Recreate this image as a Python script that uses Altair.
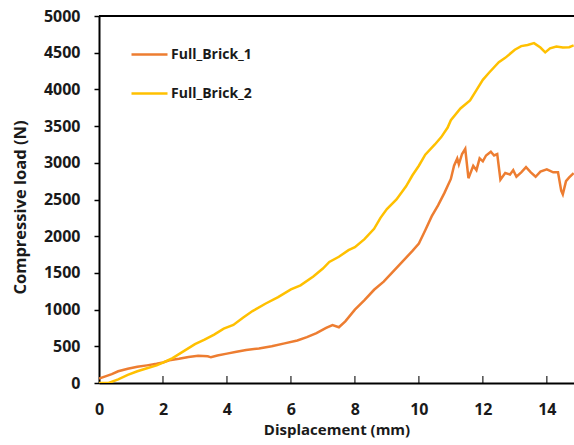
import altair as alt
import pandas as pd

series_names = ["Full_Brick_1", "Full_Brick_2"]
colors = ["#ED7D31", "#FFC000"]

b1_x = [0, 0.2, 0.4, 0.6, 0.9, 1.2, 1.5, 1.8, 2.0, 2.2, 2.5, 2.8, 3.1, 3.4, 3.5, 3.7, 4.0, 4.3, 4.6, 5.0,
        5.4, 5.8, 6.2, 6.5, 6.8, 7.1, 7.3, 7.5, 7.7, 8.0, 8.3, 8.6, 8.9, 9.2, 9.5, 9.8, 10.0, 10.2, 10.4,
        10.6, 10.8, 11.0, 11.1, 11.2, 11.25, 11.35, 11.45, 11.55, 11.7, 11.8, 11.9, 12.0, 12.1, 12.25,
        12.35, 12.45, 12.55, 12.7, 12.85, 12.95, 13.05, 13.2, 13.35, 13.5, 13.65, 13.8, 14.0, 14.2,
        14.35, 14.45, 14.5, 14.6, 14.7, 14.84]
b1_y = [60, 90, 120, 160, 195, 220, 240, 262, 280, 310, 330, 355, 370, 365, 350, 375, 400, 425, 450, 470,
        500, 540, 580, 625, 680, 750, 790, 760, 840, 1000, 1130, 1270, 1380, 1520, 1660, 1800, 1900, 2080, 2270,
        2420, 2590, 2780, 2960, 3060, 2980, 3120, 3190, 2790, 2960, 2900, 3060, 3020, 3100, 3150,
        3100, 3120, 2770, 2860, 2840, 2900, 2810, 2870, 2940, 2870, 2810, 2880, 2910, 2870,
        2870, 2620, 2570, 2750, 2800, 2860]

b2_x = [0, 0.3, 0.6, 0.9, 1.2, 1.5, 1.8, 2.0, 2.3, 2.6, 3.0, 3.3, 3.6, 3.9, 4.2, 4.5, 4.8, 5.2, 5.6, 6.0,
        6.3, 6.7, 7.0, 7.2, 7.5, 7.8, 8.0, 8.3, 8.6, 8.8, 9.0, 9.3, 9.6, 9.8, 10.0, 10.2, 10.5, 10.7, 10.9,
        11.0, 11.3, 11.6, 11.8, 12.0, 12.2, 12.5, 12.7, 13.0, 13.2, 13.4, 13.6, 13.8, 13.95, 14.1, 14.3,
        14.5, 14.7, 14.84]
b2_y = [0, 0, 50, 110, 160, 200, 240, 277, 340, 420, 530, 590, 660, 740, 790, 890, 980, 1080, 1170, 1275,
        1330, 1450, 1560, 1650, 1720, 1810, 1850, 1960, 2100, 2250, 2370, 2500, 2680, 2830, 2960, 3110, 3250,
        3350, 3480, 3580, 3740, 3850, 3990, 4130, 4230, 4370, 4430, 4540, 4590, 4605, 4630, 4570, 4505,
        4560, 4585, 4570, 4575, 4600]

x_ticks = [2, 4, 6, 8, 10, 12, 14]
y_ticks = [0, 500, 1000, 1500, 2000, 2500, 3000, 3500, 4000, 4500, 5000]

rows = []
for i, (x, y) in enumerate(zip(b1_x, b1_y)):
    rows.append({"s": series_names[0], "x": x, "y": y, "i": i})
for i, (x, y) in enumerate(zip(b2_x, b2_y)):
    rows.append({"s": series_names[1], "x": x, "y": y, "i": i})
df = pd.DataFrame(rows)

FONT = "Open Sans"
TXT = "#1a1a1a"
xscale = alt.Scale(domain=[0, 14.85], nice=False, zero=False)
yscale = alt.Scale(domain=[0, 5000], nice=False)

x_axis = alt.Axis(title="Displacement (mm)", values=[0] + x_ticks, ticks=False, format="d",
                  labelPadding=18, titlePadding=5, domainColor="black", domainWidth=2,
                  grid=False, labelFont=FONT, labelFontSize=16, labelFontWeight="bold",
                  labelColor=TXT, titleFont=FONT, titleFontSize=15, labelOverlap=False,
                  titleFontWeight="bold", titleColor=TXT, labelFlush=False)
y_axis = alt.Axis(title="Compressive load (N)", values=y_ticks, tickSize=5, tickColor="black",
                  tickWidth=1.5, labelPadding=14, titlePadding=15, domainColor="black",
                  format="d", labelOverlap=False, labelFlush=False, titleY=191,
                  domainWidth=2, grid=False, labelFont=FONT, labelFontSize=16,
                  labelFontWeight="bold", labelColor=TXT, titleFont=FONT,
                  titleFontSize=16.5, titleFontWeight="bold", titleColor=TXT)

lines = alt.Chart(df).mark_line(strokeWidth=2.5, clip=True).encode(
    x=alt.X("x:Q", scale=xscale, axis=x_axis),
    y=alt.Y("y:Q", scale=yscale, axis=y_axis),
    color=alt.Color("s:N", scale=alt.Scale(domain=series_names, range=colors),
                    legend=alt.Legend(title=None, orient="none", legendX=31, legendY=19,
                                      symbolType="stroke", symbolSize=1296, symbolStrokeWidth=2.5,
                                      rowPadding=12, labelOffset=2, padding=0,
                                      labelFont=FONT, labelFontSize=14, labelFontWeight="bold",
                                      labelColor=TXT)),
    detail="s:N",
    order="i:Q",
)

tick_df = pd.DataFrame({"x": x_ticks})
xticks = alt.Chart(tick_df).mark_tick(orient="vertical", size=7, thickness=1.5, color="black",
                                       yOffset=-3.5).encode(
    x=alt.X("x:Q", scale=xscale, axis=x_axis),
    y=alt.Y(datum=0, scale=yscale, axis=y_axis),
)

top = alt.Chart(tick_df).mark_rule(color="black", strokeWidth=2).encode(
    y=alt.Y(datum=5000, scale=yscale, axis=y_axis),
    x=alt.value(0),
    x2=alt.value(475),
)

chart = alt.layer(lines, xticks, top).properties(
    width=475, height=367,
    autosize=alt.AutoSizeParams(type="none"),
    padding={"left": 99, "top": 16, "right": 0, "bottom": 62},
    background="white",
).configure_view(stroke=None).configure_axis(labelOverlap=False)

chart.save("out.html", embed_options={"renderer": "svg", "actions": False})
